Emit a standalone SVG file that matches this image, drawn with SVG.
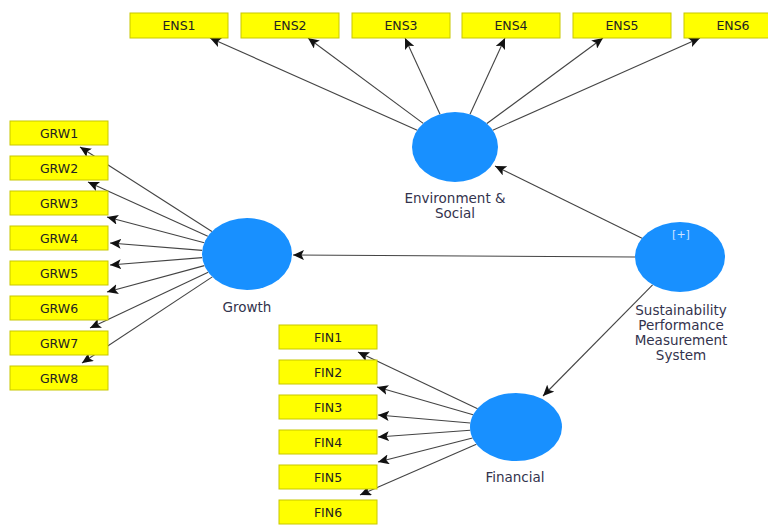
<svg xmlns="http://www.w3.org/2000/svg" width="768" height="525" viewBox="0 0 768 525">
<style>
.box{fill:#ffff00;stroke:#c8c800;stroke-width:1}
.bt{font-family:"DejaVu Sans",sans-serif;font-size:12.5px;fill:#222;text-anchor:middle}
.lv{fill:#1890ff}
.lb{font-family:"DejaVu Sans",sans-serif;font-size:13.5px;fill:#33334d;text-anchor:middle}
.c{stroke:#444;stroke-width:1.1;fill:none;marker-end:url(#ah)}
</style>
<defs>
<marker id="ah" markerUnits="userSpaceOnUse" markerWidth="12" markerHeight="10" refX="11" refY="5" orient="auto">
<path d="M0,0 L11,5 L0,10 L2.5,5 Z" fill="#111"/>
</marker>
</defs>
<rect width="768" height="525" fill="#fff"/>
<g id="connectors">
<line class="c" x1="417.3" y1="130.2" x2="210" y2="38"/>
<line class="c" x1="423.2" y1="123.4" x2="308" y2="38"/>
<line class="c" x1="440" y1="114.2" x2="405" y2="38"/>
<line class="c" x1="470" y1="114.2" x2="505" y2="38"/>
<line class="c" x1="486.9" y1="123.5" x2="603" y2="38"/>
<line class="c" x1="492.7" y1="130.2" x2="700" y2="38"/>
<line class="c" x1="211.9" y1="231.5" x2="80" y2="147"/>
<line class="c" x1="207.8" y1="236.3" x2="88" y2="182"/>
<line class="c" x1="204.3" y1="242.7" x2="107" y2="217"/>
<line class="c" x1="202.2" y1="250.4" x2="110" y2="243"/>
<line class="c" x1="202.2" y1="257.6" x2="110" y2="265"/>
<line class="c" x1="204.4" y1="265.6" x2="107" y2="292"/>
<line class="c" x1="208.2" y1="272.3" x2="90" y2="328"/>
<line class="c" x1="212.3" y1="276.9" x2="82" y2="363"/>
<line class="c" x1="477.6" y1="408.8" x2="358" y2="352"/>
<line class="c" x1="473.1" y1="414.7" x2="377" y2="387"/>
<line class="c" x1="470.3" y1="423" x2="378" y2="415"/>
<line class="c" x1="470.3" y1="430.3" x2="378" y2="437"/>
<line class="c" x1="472.5" y1="438" x2="378" y2="462"/>
<line class="c" x1="476.4" y1="444.3" x2="360" y2="495"/>
<line class="c" x1="635" y1="257" x2="293" y2="255"/>
<line class="c" x1="642" y1="238.3" x2="495" y2="166"/>
<line class="c" x1="652.6" y1="284.8" x2="543" y2="396"/>
</g>
<g id="ENS1"><rect class="box" x="130" y="13" width="98" height="25"/><text class="bt" x="179" y="30">ENS1</text></g>
<g id="ENS2"><rect class="box" x="241" y="13" width="98" height="25"/><text class="bt" x="290" y="30">ENS2</text></g>
<g id="ENS3"><rect class="box" x="352" y="13" width="98" height="25"/><text class="bt" x="401" y="30">ENS3</text></g>
<g id="ENS4"><rect class="box" x="462" y="13" width="98" height="25"/><text class="bt" x="511" y="30">ENS4</text></g>
<g id="ENS5"><rect class="box" x="573" y="13" width="98" height="25"/><text class="bt" x="622" y="30">ENS5</text></g>
<g id="ENS6"><rect class="box" x="684" y="13" width="98" height="25"/><text class="bt" x="733" y="30">ENS6</text></g>
<g id="GRW1"><rect class="box" x="10" y="121" width="98" height="24"/><text class="bt" x="59" y="137.5">GRW1</text></g>
<g id="GRW2"><rect class="box" x="10" y="156" width="98" height="24"/><text class="bt" x="59" y="172.5">GRW2</text></g>
<g id="GRW3"><rect class="box" x="10" y="191" width="98" height="24"/><text class="bt" x="59" y="207.5">GRW3</text></g>
<g id="GRW4"><rect class="box" x="10" y="226" width="98" height="24"/><text class="bt" x="59" y="242.5">GRW4</text></g>
<g id="GRW5"><rect class="box" x="10" y="261" width="98" height="24"/><text class="bt" x="59" y="277.5">GRW5</text></g>
<g id="GRW6"><rect class="box" x="10" y="296" width="98" height="24"/><text class="bt" x="59" y="312.5">GRW6</text></g>
<g id="GRW7"><rect class="box" x="10" y="331" width="98" height="24"/><text class="bt" x="59" y="347.5">GRW7</text></g>
<g id="GRW8"><rect class="box" x="10" y="366" width="98" height="24"/><text class="bt" x="59" y="382.5">GRW8</text></g>
<g id="FIN1"><rect class="box" x="279" y="325" width="98" height="24"/><text class="bt" x="328" y="341.5">FIN1</text></g>
<g id="FIN2"><rect class="box" x="279" y="360" width="98" height="24"/><text class="bt" x="328" y="376.5">FIN2</text></g>
<g id="FIN3"><rect class="box" x="279" y="395" width="98" height="24"/><text class="bt" x="328" y="411.5">FIN3</text></g>
<g id="FIN4"><rect class="box" x="279" y="430" width="98" height="24"/><text class="bt" x="328" y="446.5">FIN4</text></g>
<g id="FIN5"><rect class="box" x="279" y="465" width="98" height="24"/><text class="bt" x="328" y="481.5">FIN5</text></g>
<g id="FIN6"><rect class="box" x="279" y="500" width="98" height="24"/><text class="bt" x="328" y="516.5">FIN6</text></g>
<g id="EnvSocial"><ellipse class="lv" cx="455" cy="147" rx="43" ry="35"/><text class="lb" x="455" y="203">Environment &amp;</text><text class="lb" x="455" y="218">Social</text></g>
<g id="Growth"><ellipse class="lv" cx="247" cy="254" rx="45" ry="36"/><text class="lb" x="247" y="312">Growth</text></g>
<g id="Financial"><ellipse class="lv" cx="516" cy="427" rx="46" ry="34"/><text class="lb" x="515" y="482">Financial</text></g>
<g id="SPMS"><ellipse class="lv" cx="680" cy="257" rx="45" ry="35"/><text x="681" y="238" font-family="DejaVu Sans, sans-serif" font-size="11" fill="#cfe4ff" text-anchor="middle">[+]</text><text class="lb" x="681" y="315">Sustainability</text><text class="lb" x="681" y="330">Performance</text><text class="lb" x="681" y="345">Measurement</text><text class="lb" x="681" y="360">System</text></g>
</svg>
